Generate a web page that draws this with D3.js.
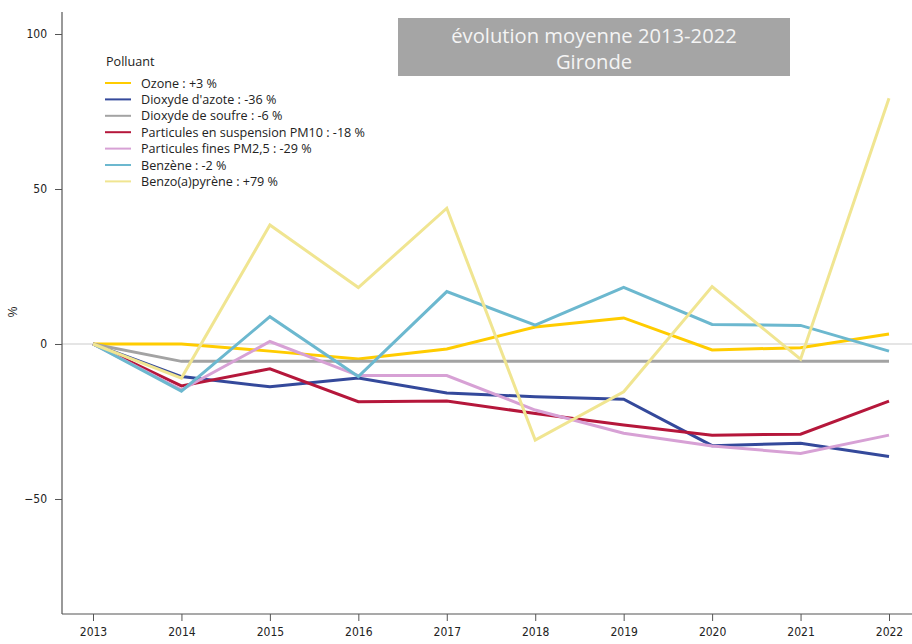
<!DOCTYPE html>
<html><head><meta charset="utf-8">
<script src="https://cdn.jsdelivr.net/npm/d3@7"></script>
<style>body{margin:0;background:#fff}svg{display:block}</style>
</head><body>
<svg id="c" width="912" height="644"></svg>
<script>
const years = [2013,2014,2015,2016,2017,2018,2019,2020,2021,2022];
const yTicks = [-50,0,50,100];
const seriesNames = ["Ozone : +3 %","Dioxyde d'azote : -36 %","Dioxyde de soufre : -6 %","Particules en suspension PM10 : -18 %","Particules fines PM2,5 : -29 %","Benzène : -2 %","Benzo(a)pyrène : +79 %"];
const ozone  = [0, 0, -2.3, -4.8, -1.6, 5.5, 8.4, -1.9, -1.2, 3.2];
const no2    = [0, -10.5, -13.8, -11, -15.8, -17, -17.8, -32.8, -32, -36.3];
const so2    = [0, -5.6, -5.6, -5.6, -5.6, -5.6, -5.6, -5.6, -5.6, -5.6];
const pm10   = [0, -13.5, -8, -18.6, -18.4, -22.4, -26.1, -29.4, -29.1, -18.4];
const pm25   = [0, -14.8, 0.8, -10.2, -10.2, -21.3, -28.8, -32.9, -35.3, -29.4];
const benz   = [0, -15.2, 8.8, -10.5, 16.9, 6.1, 18.3, 6.3, 6, -2.3];
const bap    = [0, -11, 38.4, 18.2, 43.8, -31, -15.4, 18.5, -4.9, 79.3];
const colors = ["#ffcc00","#34499b","#a3a3a3","#b5173b","#d7a1d5","#6cb8cf","#f0e591"];
const seriesValues = [ozone,no2,so2,pm10,pm25,benz,bap];

const svg = d3.select("#c");
const x = d3.scaleLinear().domain([2013,2022]).range([93,889]);
const y = d3.scaleLinear().domain([-87.1,107.1]).range([614,12]);

svg.append("line").attr("x1",62).attr("x2",912).attr("y1",y(0)).attr("y2",y(0))
  .attr("stroke","#dcdcdc").attr("stroke-width",1.5);

const yAxis = svg.append("g").attr("transform","translate(62,0)")
  .call(d3.axisLeft(y).tickValues(yTicks).tickSize(7).tickPadding(8).tickSizeOuter(0));
const xAxis = svg.append("g").attr("transform","translate(0,614)")
  .call(d3.axisBottom(x).tickValues(years).tickFormat(d3.format("d")).tickSize(7).tickPadding(6).tickSizeOuter(0));
[yAxis,xAxis].forEach(g=>{
  g.select(".domain").attr("stroke","#555").attr("stroke-width",1.2);
  g.selectAll(".tick line").attr("stroke","#555");
  g.selectAll("text").attr("font-family","DejaVu Sans Condensed, Liberation Sans, Arial, sans-serif").attr("font-size",12).attr("fill","#222");
});
xAxis.select(".domain").attr("d","M62,0H912");
yAxis.select(".domain").attr("d","M0,12V614");

svg.append("text").attr("transform","translate(17,312) rotate(-90)").attr("text-anchor","middle")
  .attr("font-family","Liberation Sans, Arial, sans-serif").attr("font-size",12).attr("fill","#222").text("%");

const line = d3.line().x((d,i)=>x(years[i])).y(d=>y(d));
seriesValues.forEach((vals,k)=>{
  svg.append("path").attr("d",line(vals)).attr("fill","none")
    .attr("stroke",colors[k]).attr("stroke-width",3).attr("stroke-linejoin","miter");
});

svg.append("rect").attr("x",398).attr("y",18).attr("width",392).attr("height",58).attr("fill","#a5a5a5");
const tt = svg.append("text").attr("text-anchor","middle").attr("font-family","Open Sans, Noto Sans, sans-serif")
  .attr("font-size",20.2).attr("fill","#f4f4f4");
tt.append("tspan").attr("x",594).attr("y",43).text("évolution moyenne 2013-2022");
tt.append("tspan").attr("x",594).attr("y",69).text("Gironde");

const lg = svg.append("g").attr("font-family","Open Sans, Noto Sans, sans-serif").attr("font-size",12.6).attr("fill","#222");
lg.append("text").attr("x",106).attr("y",66).text("Polluant");
seriesNames.forEach((n,k)=>{
  const yy = 83 + k*16.4;
  lg.append("line").attr("x1",105).attr("x2",131).attr("y1",yy).attr("y2",yy).attr("stroke",colors[k]).attr("stroke-width",2);
  lg.append("text").attr("x",141).attr("y",yy+4.5).text(n);
});
</script>
</body></html>
